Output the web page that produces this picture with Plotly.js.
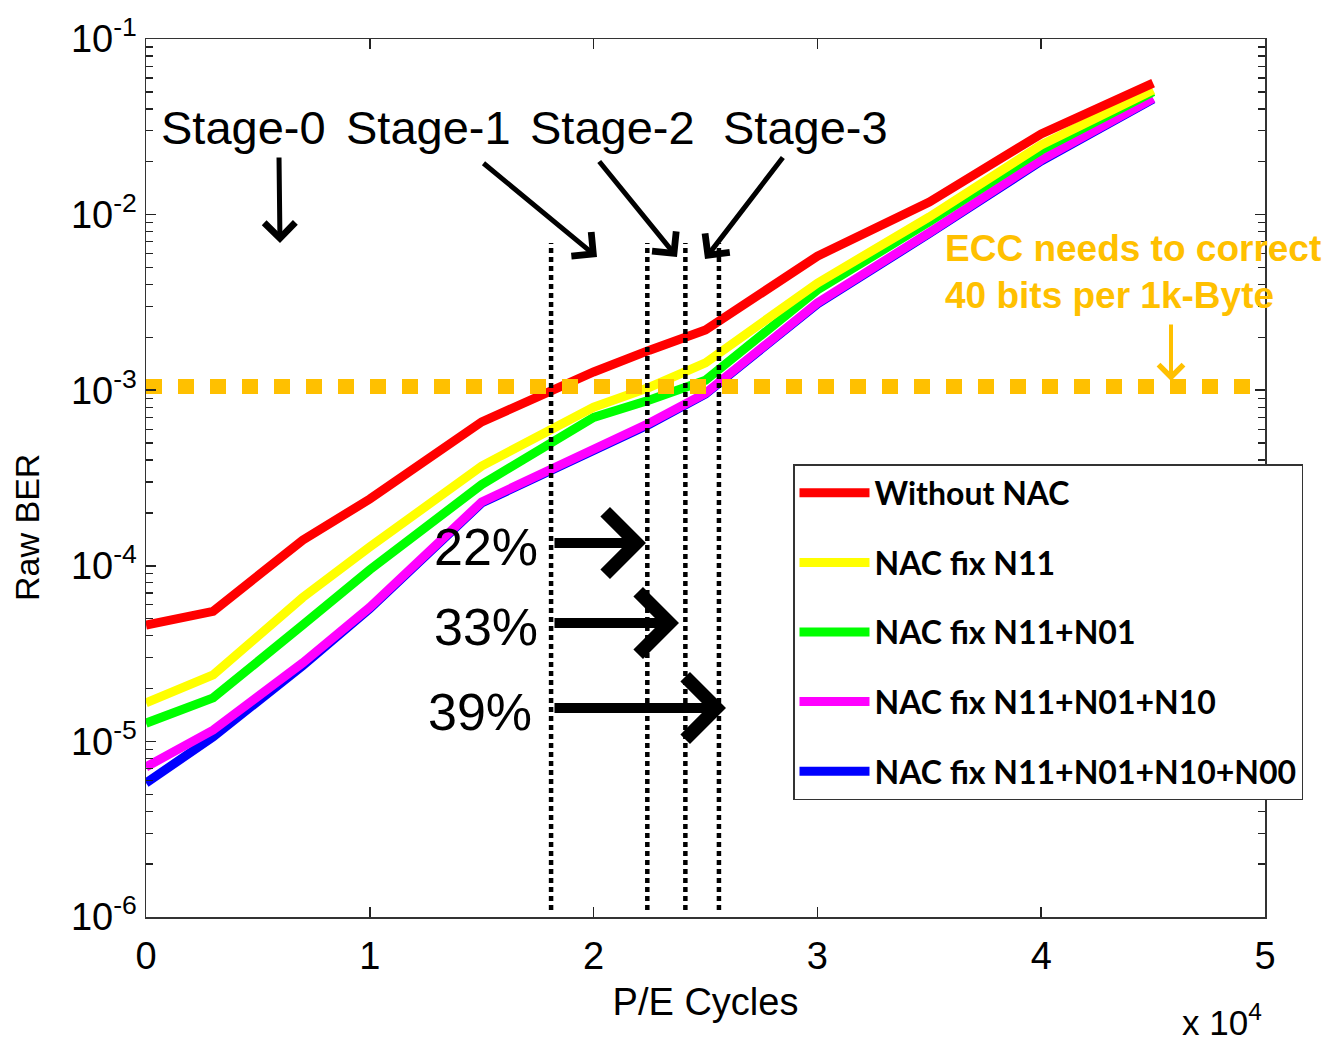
<!DOCTYPE html>
<html>
<head>
<meta charset="utf-8">
<script src="https://cdn.plot.ly/plotly-3.0.1.min.js"></script>
<style>html,body{margin:0;padding:0;background:#fff;}#chart{width:1326px;height:1041px;}</style>
</head>
<body>
<div id="chart"></div>
<script>
// ---- data (P/E cycles in units of 10^4, raw BER) ----
var peCycles = [0, 0.3, 0.7, 1.0, 1.5, 2.0, 2.25, 2.5, 3.0, 3.5, 4.0, 4.5];
var withoutNAC = [4.6e-5, 5.5e-5, 1.4e-4, 2.4e-4, 6.6e-4, 1.27e-3, 1.69e-3, 2.2e-3, 5.8e-3, 1.18e-2, 2.88e-2, 5.6e-2];
var fixN11 = [1.66e-5, 2.39e-5, 6.6e-5, 1.28e-4, 3.7e-4, 8.0e-4, 1.04e-3, 1.43e-3, 4.07e-3, 9.7e-3, 2.49e-2, 5.13e-2];
var fixN11N01 = [1.27e-5, 1.77e-5, 4.6e-5, 9.5e-5, 2.9e-4, 7.0e-4, 8.8e-4, 1.14e-3, 3.72e-3, 9.1e-3, 2.33e-2, 5.0e-2];
var fixN11N01N10 = [7.15e-6, 1.16e-5, 2.8e-5, 5.8e-5, 2.31e-4, 4.57e-4, 6.5e-4, 9.6e-4, 3.14e-3, 7.9e-3, 2.05e-2, 4.6e-2];
var fixAll = [5.8e-6, 1.06e-5, 2.7e-5, 5.7e-5, 2.28e-4, 4.5e-4, 6.4e-4, 9.5e-4, 3.1e-3, 7.8e-3, 2.02e-2, 4.55e-2];
var seriesNames = ['Without NAC', 'NAC fix N11', 'NAC fix N11+N01', 'NAC fix N11+N01+N10', 'NAC fix N11+N01+N10+N00'];
var eccThreshold = 1.05e-3;
var eccThresholdX = [0, 4.94];
var stageBoundaries = [1.81, 2.24, 2.41, 2.56];
var stageLabels = ['Stage-0', 'Stage-1', 'Stage-2', 'Stage-3'];
var gainLabels = ['22%', '33%', '39%'];
var xTickVals = [0, 1, 2, 3, 4, 5];
var yTickVals = [1e-6, 1e-5, 1e-4, 1e-3, 1e-2, 1e-1];
var yTickText = ['10<sup>-6</sup>', '10<sup>-5</sup>', '10<sup>-4</sup>', '10<sup>-3</sup>', '10<sup>-2</sup>', '10<sup>-1</sup>'];

// minor log ticks (2..9 within each decade)
var yMinorVals = [];
for (var e = -6; e < -1; e++) {
  for (var m = 2; m <= 9; m++) yMinorVals.push(m * Math.pow(10, e));
}

// ---- layout helpers (plot area: 146..1265 px wide, 39..917 px tall) ----
var L = 146, R = 1265, T = 39, B = 917;
function px(x) { return (x - L) / (R - L); }
function py(y) { return (B - y) / (B - T); }

var colors = ['#FF0000', '#FFFF00', '#00FF00', '#FF00FF', '#0000FF'];
var seriesData = [withoutNAC, fixN11, fixN11N01, fixN11N01N10, fixAll];

var traces = [];
// draw order: blue first, red last
for (var i = seriesData.length - 1; i >= 0; i--) {
  traces.push({
    x: peCycles, y: seriesData[i], type: 'scatter', mode: 'lines',
    name: seriesNames[i], legendrank: i + 1, legendgroup: 'g' + i,
    line: {color: colors[i], width: 9}
  });
}
traces.push({
  x: eccThresholdX, y: [eccThreshold, eccThreshold], type: 'scatter', mode: 'lines',
  showlegend: false, hoverinfo: 'skip',
  line: {color: '#FFC000', width: 15, dash: '16px,16px'}
});

var shapes = stageBoundaries.map(function (b) {
  return {type: 'line', xref: 'x', yref: 'paper', x0: b, x1: b, y0: py(910), y1: py(243),
          line: {color: '#000', width: 4.5, dash: '5px,4px'}};
});

var stageCenters = [243, 428, 612, 805];
var annotations = [];
stageLabels.forEach(function (s, k) {
  annotations.push({xref: 'paper', yref: 'paper', x: px(stageCenters[k]), y: py(127),
    text: s, showarrow: false, xanchor: 'center', yanchor: 'middle',
    font: {family: 'Liberation Sans, Arial', size: 47, color: '#000'}});
});
// stage arrows: [tailX, tailY, headX, headY]
var stageArrows = [[279, 156, 280, 243], [482, 162, 597, 257], [598, 160, 677, 257], [784, 156, 705, 259]];
stageArrows.forEach(function (a) {
  annotations.push({xref: 'paper', yref: 'paper', x: px(a[2]), y: py(a[3]), ax: a[0] - a[2], ay: a[1] - a[3],
    text: '', showarrow: true, arrowhead: 4, arrowsize: 1.2, arrowwidth: 5, arrowcolor: '#000', standoff: 0});
});
var gainY = [547, 627, 712];
var gainX = [486, 486, 480];
var gainHead = [646, 679, 726];
gainLabels.forEach(function (g, k) {
  annotations.push({xref: 'paper', yref: 'paper', x: px(gainX[k]), y: py(gainY[k]),
    text: g, showarrow: false, xanchor: 'center', yanchor: 'middle',
    font: {family: 'Liberation Sans, Arial', size: 52, color: '#000'}});
  var ay = gainY[k] - 4;
  annotations.push({xref: 'paper', yref: 'paper', x: px(gainHead[k]), y: py(ay), ax: 553 - gainHead[k], ay: 0,
    text: '', showarrow: true, arrowhead: 4, arrowsize: 1.2, arrowwidth: 10, arrowcolor: '#000', standoff: 0});
});
annotations.push({xref: 'paper', yref: 'paper', x: px(943), y: py(249), text: '<b>ECC needs to correct</b>',
  showarrow: false, xanchor: 'left', yanchor: 'middle',
  font: {family: 'Liberation Sans, Arial', size: 37, color: '#FFC000'}});
annotations.push({xref: 'paper', yref: 'paper', x: px(943), y: py(295), text: '<b>40 bits per 1k-Byte</b>',
  showarrow: false, xanchor: 'left', yanchor: 'middle',
  font: {family: 'Liberation Sans, Arial', size: 37, color: '#FFC000'}});
annotations.push({xref: 'paper', yref: 'paper', x: px(1171), y: py(381), ax: 0, ay: -58,
  text: '', showarrow: true, arrowhead: 4, arrowsize: 1.2, arrowwidth: 4, arrowcolor: '#FFC000', standoff: 0});
annotations.push({xref: 'paper', yref: 'paper', x: px(1264), y: py(1020), text: 'x 10<sup>4</sup>',
  showarrow: false, xanchor: 'right', yanchor: 'middle',
  font: {family: 'Liberation Sans, Arial', size: 35, color: '#000'}});
// y-axis title (positioned as in the reference, below the axis centre)
annotations.push({xref: 'paper', yref: 'paper', x: px(27), y: py(528), text: 'Raw BER',
  showarrow: false, textangle: -90, xanchor: 'center', yanchor: 'middle',
  font: {family: 'Liberation Sans, Arial', size: 34, color: '#000'}});

var axisCommon = {
  showline: true, linecolor: '#333', linewidth: 1.5, mirror: 'allticks',
  ticks: 'inside', ticklen: 10, tickwidth: 1.5, tickcolor: '#222',
  showgrid: false, zeroline: false,
  tickfont: {family: 'Liberation Sans, Arial', size: 38, color: '#000'}
};

var layout = {
  width: 1326, height: 1041,
  margin: {l: L, r: 1326 - R, t: T, b: 1041 - B},
  paper_bgcolor: '#fff', plot_bgcolor: '#fff',
  showlegend: true,
  xaxis: Object.assign({}, axisCommon, {
    range: [0, 5], tickmode: 'array', tickvals: xTickVals, ticklabelstandoff: 5,
    title: {text: 'P/E Cycles', standoff: 12, font: {family: 'Liberation Sans, Arial', size: 38, color: '#000'}}
  }),
  yaxis: Object.assign({}, axisCommon, {
    type: 'log', range: [-6, -1], tickmode: 'array', tickvals: yTickVals, ticktext: yTickText,
    minor: {tickmode: 'array', tickvals: yMinorVals, ticks: 'inside', ticklen: 7, tickwidth: 1.3,
            tickcolor: '#222', showgrid: false}
  }),
  legend: {
    x: px(793), y: py(464), xanchor: 'left', yanchor: 'top',
    bgcolor: '#fff', bordercolor: '#333', borderwidth: 1.5,
    traceorder: 'grouped', tracegroupgap: 25, itemwidth: 70,
    font: {family: 'Lato, Liberation Sans, Arial', size: 32, color: '#000', weight: 'bold'}
  },
  shapes: shapes,
  annotations: annotations
};

Plotly.newPlot('chart', traces, layout, {staticPlot: true});
</script>
</body>
</html>
